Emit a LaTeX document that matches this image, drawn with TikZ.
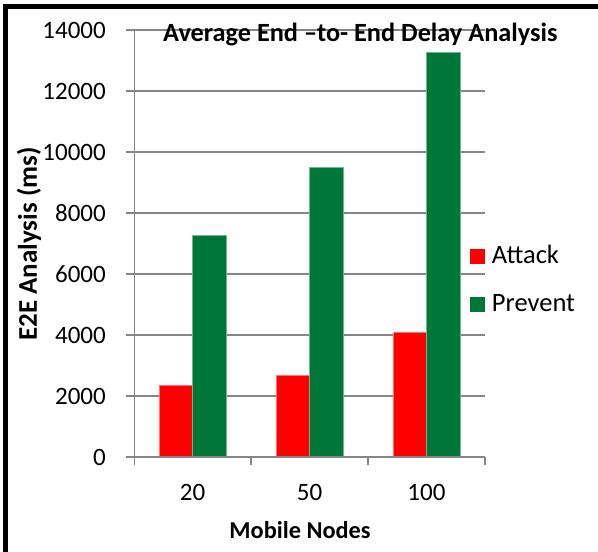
\documentclass[tikz,border=0pt]{standalone}
\usepackage{fontspec}
\setmainfont{Carlito}
\definecolor{attackred}{RGB}{255,0,0}
\definecolor{preventgreen}{RGB}{0,118,56}
\definecolor{gridgray}{RGB}{134,134,134}
\tikzset{
  gridline/.style={draw=gridgray, line width=1.5pt},
  frameline/.style={draw=black, line width=5pt},
  ticklabel/.style={inner sep=0pt, font=\fontsize{25}{30}\selectfont},
  legendlabel/.style={inner sep=0pt, font=\fontsize{26.5}{30}\selectfont},
  axistitle/.style={inner sep=0pt, font=\bfseries\fontsize{24.3}{30}\selectfont},
  attackbar/.style={fill=attackred, draw=attackred!55!white, line width=0.6pt},
  preventbar/.style={fill=preventgreen, draw=preventgreen!55!white, line width=0.6pt},
}
\begin{document}
\begin{tikzpicture}[x=1pt, y=-1pt]
  \useasboundingbox (0,0) rectangle (598,552);
  \fill[white] (0,0) rectangle (598,552);

  % frame on the top and left sides
  \draw[frameline] (5.5,6) -- (598,6);
  \draw[frameline] (5.5,3.5) -- (5.5,552);

  % horizontal grid lines, 2000 ms apart
  \foreach \k in {1,...,7}
    \draw[gridline] (126,{457-61*\k}) -- (485,{457-61*\k});

  % bars: 20, 50 and 100 mobile nodes (61 units per 2000 ms)
  \foreach \c/\a/\p [count=\i] in {192.5/2338/7279, 309.5/2664/9508, 426.5/4075/13269} {
    \path[attackbar]  ({\c-33.4},457) rectangle (\c,{457-0.0305*\a});
    \path[preventbar] (\c,457) rectangle ({\c+33.4},{457-0.0305*\p});
  }

  % axes and tick marks
  \draw[gridline] (126,457) -- (485,457);
  \draw[gridline] (134.5,30) -- (134.5,465);
  \foreach \x in {251,368,485}
    \draw[gridline] (\x,457) -- (\x,465);

  % y tick labels
  \foreach \v [count=\i from 0] in {0,2000,4000,6000,8000,10000,12000,14000}
    \node[ticklabel, anchor=base east] (ytick\i) at (106,{457-61*\i+8}) {\v};

  % category labels
  \node[ticklabel, anchor=base] (cat20)  at (192.5,500) {20};
  \node[ticklabel, anchor=base] (cat50)  at (309.5,500) {50};
  \node[ticklabel, anchor=base] (cat100) at (426.5,500) {100};

  % titles
  \node[axistitle, anchor=base west, font=\bfseries\fontsize{26.3}{30}\selectfont] (title) at (163,41) {Average End –to- End Delay Analysis};
  \node[axistitle, anchor=base] (xtitle) at (300,538) {Mobile Nodes};
  \node[axistitle, anchor=base, rotate=90, font=\bfseries\fontsize{27}{30}\selectfont] (ytitle) at (37,244) {E2E Analysis (ms)};

  % legend
  \node[fill=attackred, minimum size=14.5pt, inner sep=0pt] (keyattack) at (477.3,256.3) {};
  \node[fill=preventgreen, minimum size=14.5pt, inner sep=0pt] (keyprevent) at (477.3,304.5) {};
  \node[legendlabel, anchor=base west] (labattack) at (491.7,263.3) {Attack};
  \node[legendlabel, anchor=base west] (labprevent) at (491.7,311.7) {Prevent};
\end{tikzpicture}
\end{document}
